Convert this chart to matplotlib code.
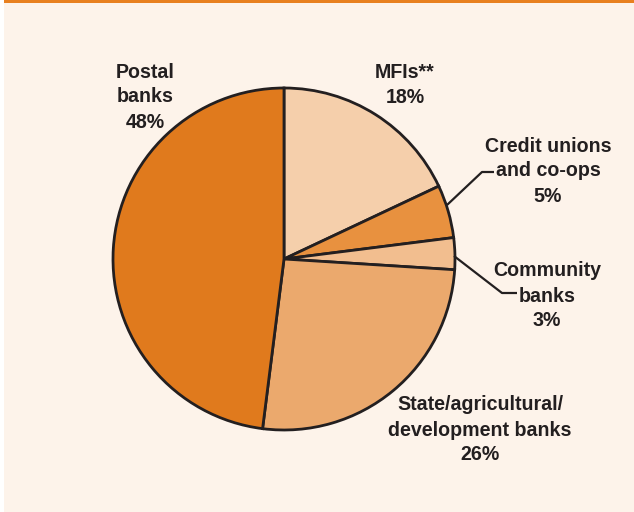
import matplotlib
matplotlib.use("Agg")
import matplotlib.pyplot as plt
from matplotlib.patches import Rectangle

labels = ["MFIs**\n18%", "Credit unions\nand co-ops\n5%", "Community\nbanks\n3%",
          "State/agricultural/\ndevelopment banks\n26%", "Postal\nbanks\n48%"]
values = [18, 5, 3, 26, 48]
colors = ["#f5cfab", "#e8913f", "#f2be8f", "#eba96d", "#e07a1d"]

W, H = 634, 512
fig = plt.figure(figsize=(W / 100, H / 100), dpi=100, facecolor="white")
ax = fig.add_axes([0, 0, 1, 1])
ax.set_xlim(0, W)
ax.set_ylim(0, H)
ax.set_aspect("equal")
ax.axis("off")

# background panel and top rule
ax.add_patch(Rectangle((4, 0), W - 4, H - 3, facecolor="#fdf3ea", edgecolor="none", zorder=0))
ax.add_patch(Rectangle((4, H - 3), W - 4, 3, facecolor="#e8801f", edgecolor="none", zorder=0))

cx, cy, r = 284, H - 259, 171
ax.pie(values, colors=colors, startangle=90, counterclock=False, center=(cx, cy), radius=r,
       wedgeprops=dict(edgecolor="#231f20", linewidth=2.0), frame=True)
ax.set_xlim(0, W)
ax.set_ylim(0, H)
ax.axis("off")

font = dict(family="Liberation Sans", weight="bold", fontsize=14.1, color="#231f20",
            ha="center", va="center", linespacing=1.4)
pos = [(405, 85), (548, 171), (547, 296), (480, 430), (145, 97)]
for lab, (x, y) in zip(labels, pos):
    ax.text(x, H - y, lab, **font)

# leader lines
ax.plot([447, 482, 494], [H - 205, H - 172, H - 172], color="#231f20", lw=1.6, solid_capstyle="butt")
ax.plot([454, 502, 517], [H - 256, H - 293, H - 293], color="#231f20", lw=1.6, solid_capstyle="butt")

fig.savefig("out.png", dpi=100, facecolor=fig.get_facecolor())
